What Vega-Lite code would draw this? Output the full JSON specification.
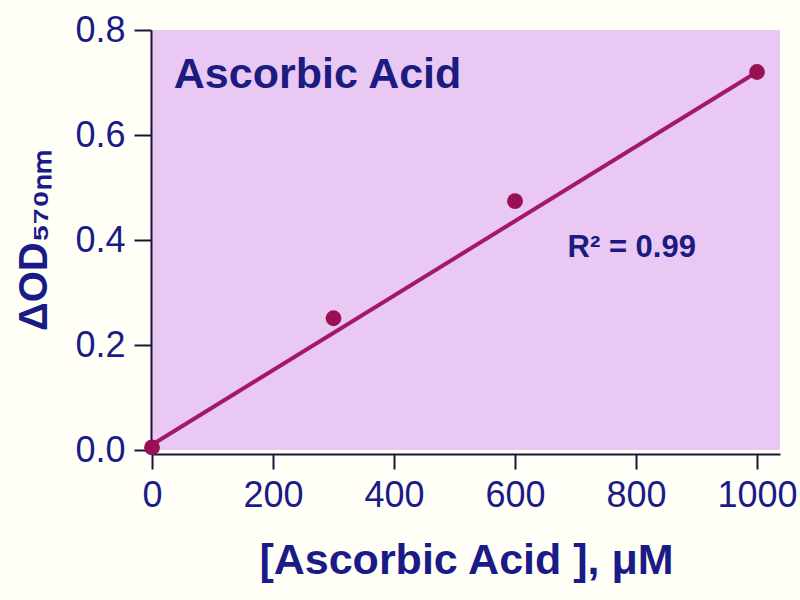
{
  "$schema": "https://vega.github.io/schema/vega-lite/v6.json",
  "width": 628,
  "height": 420,
  "autosize": "none",
  "padding": {"left": 152, "top": 30, "right": 20, "bottom": 150},
  "background": "#FFFFF7",
  "view": {"fill": "#E9C8F4", "stroke": null},
  "config": {
    "font": "Liberation Sans",
    "axis": {
      "grid": false,
      "domainColor": "#15153A",
      "domainWidth": 2,
      "tickColor": "#15153A",
      "tickWidth": 2,
      "labelColor": "#1B1B88",
      "labelFont": "Liberation Sans",
      "labelFontSize": 36,
      "titleColor": "#1B1B88",
      "titleFont": "Liberation Sans",
      "titleFontWeight": "bold"
    }
  },
  "encoding": {
    "x": {
      "field": "x",
      "type": "quantitative",
      "scale": {"domain": [0, 1038], "nice": false, "zero": false},
      "axis": {
        "title": "[Ascorbic Acid ], μM",
        "titleFontSize": 43,
        "titlePadding": 26,
        "values": [0, 200, 400, 600, 800, 1000],
        "format": "d",
        "offset": 4,
        "tickSize": 15,
        "labelPadding": 9,
        "labelFlush": false
      }
    },
    "y": {
      "field": "y",
      "type": "quantitative",
      "scale": {"domain": [0, 0.8], "nice": false},
      "axis": {
        "title": "ΔOD₅₇₀ₙₘ",
        "titleFontSize": 40,
        "titlePadding": 20,
        "values": [0, 0.2, 0.4, 0.6, 0.8],
        "format": ".1f",
        "offset": 1,
        "tickSize": 17,
        "labelPadding": 9,
        "labelFlush": false
      }
    }
  },
  "layer": [
    {
      "data": {"values": [{"x": 0, "y": 0.01}, {"x": 1000, "y": 0.72}]},
      "mark": {"type": "line", "color": "#A3186A", "strokeWidth": 4}
    },
    {
      "data": {"values": [
        {"x": 0, "y": 0.005},
        {"x": 300, "y": 0.251},
        {"x": 600, "y": 0.474},
        {"x": 1000, "y": 0.72}
      ]},
      "mark": {"type": "point", "filled": true, "opacity": 1, "size": 250, "color": "#9A1055"}
    },
    {
      "data": {"values": [{"x": 36, "y": 0.69, "label": "Ascorbic Acid"}]},
      "mark": {"type": "text", "align": "left", "baseline": "alphabetic", "fontSize": 43, "fontWeight": "bold", "color": "#1B1B80"},
      "encoding": {"text": {"field": "label"}}
    },
    {
      "data": {"values": [{"x": 793, "y": 0.385, "label": "R² = 0.99"}]},
      "mark": {"type": "text", "align": "center", "baseline": "middle", "fontSize": 31, "fontWeight": "bold", "color": "#1B1B80"},
      "encoding": {"text": {"field": "label"}}
    }
  ]
}
